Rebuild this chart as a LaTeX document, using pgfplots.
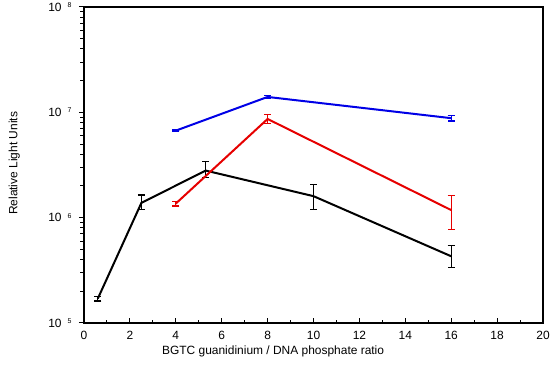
\documentclass[border=0pt]{standalone}
\usepackage{fontspec}
\setmainfont{Liberation Sans}
\usepackage{pgfplots}
\pgfplotsset{compat=1.18}
\definecolor{cblue}{RGB}{0,0,230}
\definecolor{cred}{RGB}{230,0,0}
\newcommand{\tenpow}[1]{10\hspace{6bp}\raisebox{0.6ex}{\fontsize{7}{7}\selectfont #1}}
\begin{document}
\begin{tikzpicture}
\begin{axis}[
  scale only axis, width=459bp, height=316bp,
  ymode=log, xmin=0, xmax=20, ymin=1e5, ymax=1e8,
  xtick={0,2,...,20}, minor x tick num=1,
  ytick={1e5,1e6,1e7,1e8},
  yticklabels={\tenpow{5},\tenpow{6},\tenpow{7},\tenpow{8}},
  xtick pos=bottom, ytick pos=left,
  xtick align=inside, ytick align=outside,
  major tick length=5bp, minor tick length=3.5bp,
  tick style={black, line width=1bp},
  axis line style={line width=1.6bp},
  /pgf/number format/assume math mode=true,
  xticklabel style={font=\fontsize{12}{14}\selectfont, yshift=-5bp},
  yticklabel style={font=\fontsize{12}{14}\selectfont, xshift=-4bp},
  xlabel={BGTC guanidinium / DNA phosphate ratio},
  ylabel={Relative Light Units},
  every axis x label/.style={at={(axis description cs:0.412,-0.09)}, anchor=center, font=\fontsize{12}{14}\selectfont},
  every axis y label/.style={at={(axis description cs:-0.152,0.505)}, rotate=90, anchor=center, font=\fontsize{12}{14}\selectfont},
  clip=false,
  every axis plot/.append style={line width=2bp, mark=none,
    error bars/y dir=both, error bars/y explicit,
    error bars/error bar style={line width=1.3bp},
    error bars/error mark options={rotate=90, mark size=3.5bp, line width=1.3bp}},
]
\addplot[black] coordinates {
  (0.6,1.70e5) += (0,0.08e5) -= (0,0.08e5)
  (2.5,1.38e6) += (0,0.26e6) -= (0,0.19e6)
  (5.3,2.80e6) += (0,0.60e6) -= (0,0.40e6)
  (10,1.60e6)  += (0,0.47e6) -= (0,0.40e6)
  (16,4.30e5)  += (0,1.10e5) -= (0,0.95e5)
};
\addplot[cred] coordinates {
  (4,1.36e6)  += (0,0.07e6) -= (0,0.07e6)
  (8,8.65e6)  += (0,0.95e6) -= (0,0.85e6)
  (16,1.18e6) += (0,0.45e6) -= (0,0.41e6)
};
\addplot[cblue] coordinates {
  (4,6.7e6)  += (0,0.1e6) -= (0,0.1e6)
  (8,1.40e7) += (0,0.5e6) -= (0,0.5e6)
  (16,8.8e6) += (0,0.5e6) -= (0,0.5e6)
};
\end{axis}
\pgfresetboundingbox
\path[use as bounding box] (-84bp,-51bp) rectangle (466bp,323bp);
\end{tikzpicture}
\end{document}
